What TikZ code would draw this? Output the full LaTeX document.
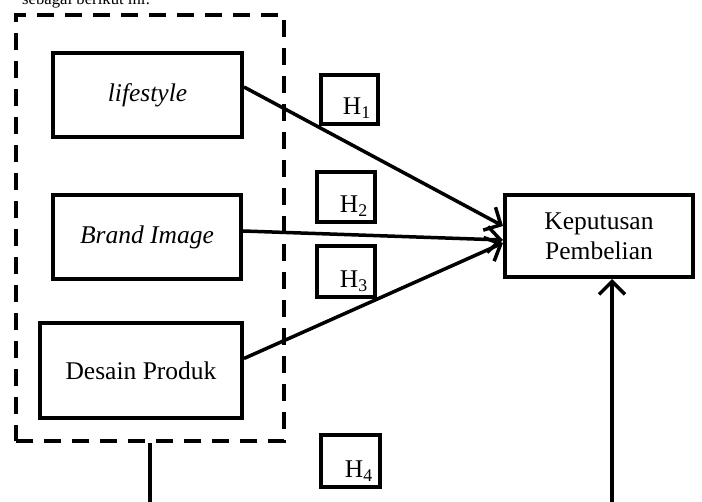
\documentclass[tikz,border=0pt]{standalone}
\usepackage{fontspec}
\setmainfont{Liberation Serif}
\usetikzlibrary{arrows.meta}

\tikzset{
  box/.style={draw,line width=4pt,inner sep=0pt,font=\fontsize{25.5}{30}\selectfont,align=center},
  hbox/.style={draw,line width=4pt,inner sep=0pt},
  htext/.style={anchor=base east,inner sep=0pt,font=\fontsize{25.5}{30}\selectfont},
  grpbox/.style={draw,line width=4pt,dash pattern=on 17pt off 11pt,inner sep=0pt,minimum width=268,minimum height=426},
  arr/.style={line width=3.5pt,-{Straight Barb[length=13pt,width=26pt]}}
}

\begin{document}
\begin{tikzpicture}[x=1pt,y=-1pt]
		\clip (0,0) rectangle (702,502);
		\node[anchor=base west,inner sep=0pt,font=\fontsize{16.7}{20}\selectfont] (intro) at (22,5) {sebagai berikut ini:};
		% variabel bebas
		\node[grpbox] (grp) at (150,228) {};
		\node[box,minimum width=189,minimum height=84] (life) at (147.5,95) {\textit{lifestyle}};
		\node[box,minimum width=188,minimum height=84] (brand) at (147,237) {\textit{Brand Image}};
		\node[box,minimum width=202,minimum height=95] (desain) at (141,370.5) {Desain Produk};
		% variabel terikat
		\node[box,minimum width=188,minimum height=82] (kp) at (599,236) {Keputusan\\Pembelian};
		% hipotesis
		\node[hbox,minimum width=57,minimum height=49] (h1) at (349.5,99.5) {};
		\node[hbox,minimum width=58,minimum height=50] (h2) at (346,197) {};
		\node[hbox,minimum width=58,minimum height=51] (h3) at (346,271.5) {};
		\node[hbox,minimum width=59,minimum height=52] (h4) at (350.5,461) {};
		\node[htext] at ([xshift=-9,yshift=11]h1.south east) {H\textsubscript{1}};
		\node[htext] at ([xshift=-9,yshift=11]h2.south east) {H\textsubscript{2}};
		\node[htext] at ([xshift=-9,yshift=11]h3.south east) {H\textsubscript{3}};
		\node[htext] at ([xshift=-9,yshift=11]h4.south east) {H\textsubscript{4}};
		% panah
		\draw[arr] ([yshift=8]life.east) -- ([yshift=10]kp.west);
		\draw[arr] ([yshift=6]brand.east) -- ([yshift=-4]kp.west);
		\draw[arr] ([yshift=12]desain.east) -- ([yshift=-7]kp.west);
		\draw[arr] (grp.south) -- ++(0,120) -| ([xshift=13]kp.south);
	\end{tikzpicture}
\end{document}
